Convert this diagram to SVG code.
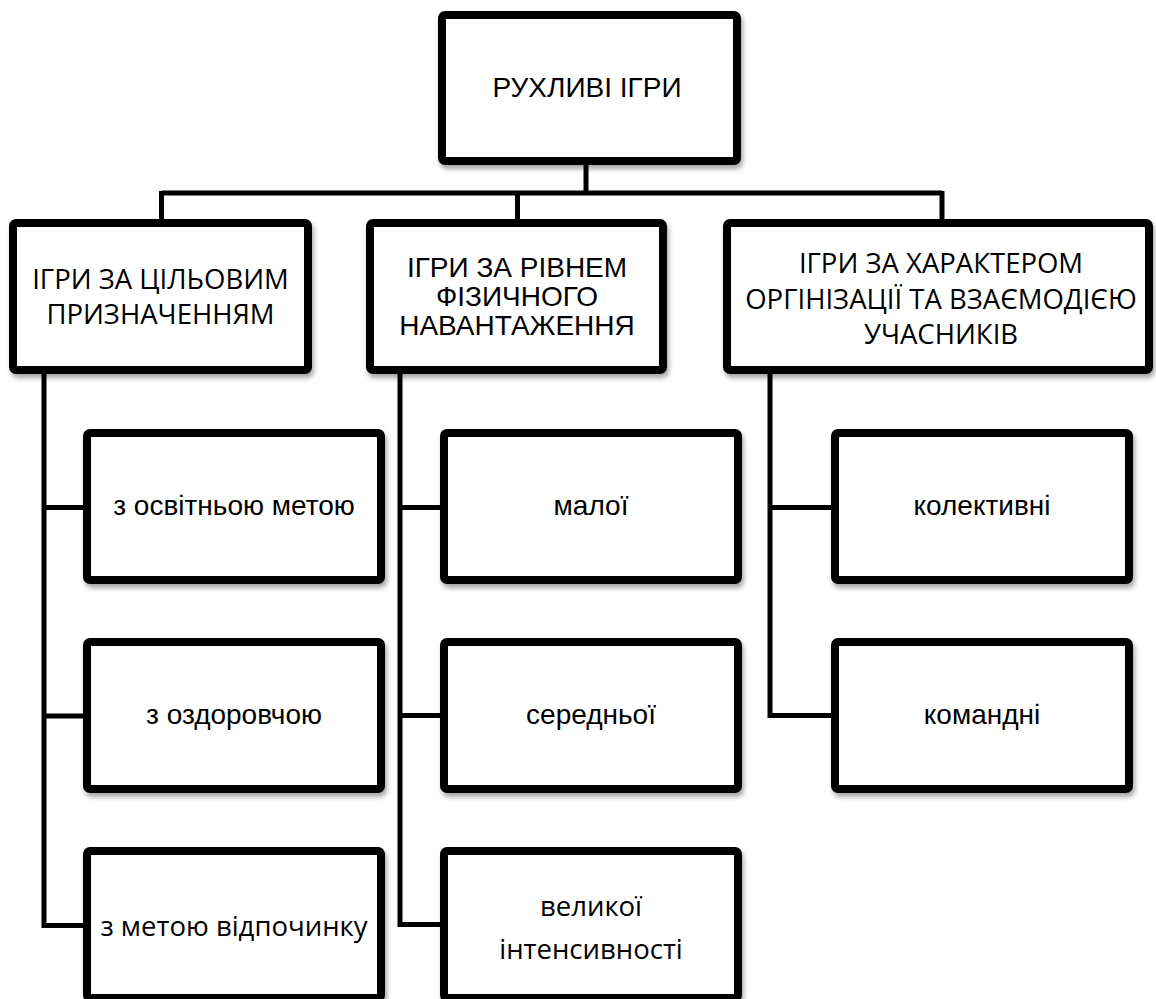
<svg xmlns="http://www.w3.org/2000/svg" width="1156" height="999" viewBox="0 0 1156 999">
<defs>
<filter id="sh" x="-10%" y="-10%" width="125%" height="130%">
<feDropShadow dx="2" dy="4" stdDeviation="2.5" flood-color="#000" flood-opacity="0.35"/>
</filter>
<style>
.box{fill:#fff;stroke:#000;stroke-width:8;filter:url(#sh)}
.conn{fill:none;stroke:#000;stroke-width:5;stroke-linejoin:miter}
.a{font-family:"Liberation Sans",Arial,sans-serif;font-size:28px;fill:#000;text-anchor:middle}
.c{font-family:"Open Sans","Noto Sans",sans-serif;font-size:27.5px;fill:#000;text-anchor:middle}
</style>
</defs>
<rect width="1156" height="999" fill="#fff"/>
<g id="connectors">
<path class="conn" d="M586 165 V193 M161.5 193 H942 M161.5 191 V220 M517.5 191 V220 M942 191 V220"/>
<path class="conn" d="M44 374 V925.5 H84 M44 507.5 H84 M44 716 H84"/>
<path class="conn" d="M400 374 V924.5 H441 M400 507.5 H441 M400 715.5 H441"/>
<path class="conn" d="M770 374 V715.5 H832 M770 507.5 H832"/>
</g>
<g id="root">
<rect class="box" x="442" y="15" width="295" height="146" rx="3"/>
<text class="a" x="587" y="97">РУХЛИВІ ІГРИ</text>
</g>
<g id="cat1">
<rect class="box" x="13" y="223" width="295" height="147" rx="3"/>
<text class="c" x="160.5" y="289">ІГРИ ЗА ЦІЛЬОВИМ</text>
<text class="c" x="160.5" y="324">ПРИЗНАЧЕННЯМ</text>
</g>
<g id="cat2">
<rect class="box" x="370" y="223" width="293" height="147" rx="3"/>
<text class="a" x="517" y="277">ІГРИ ЗА РІВНЕМ</text>
<text class="a" x="517" y="306">ФІЗИЧНОГО</text>
<text class="a" x="517" y="335">НАВАНТАЖЕННЯ</text>
</g>
<g id="cat3">
<rect class="box" x="727" y="223" width="422" height="147" rx="3"/>
<text class="c" x="941" y="273">ІГРИ ЗА ХАРАКТЕРОМ</text>
<text class="c" x="941" y="308.5">ОРГІНІЗАЦІЇ ТА ВЗАЄМОДІЄЮ</text>
<text class="c" x="941" y="344">УЧАСНИКІВ</text>
</g>
<g id="n11">
<rect class="box" x="87" y="433" width="294" height="147" rx="3"/>
<text class="a" x="234" y="515">з освітньою метою</text>
</g>
<g id="n12">
<rect class="box" x="87" y="642" width="294" height="147" rx="3"/>
<text class="a" x="234" y="724">з оздоровчою</text>
</g>
<g id="n13">
<rect class="box" x="87" y="851" width="294" height="147" rx="3"/>
<text class="c" x="234" y="936">з метою відпочинку</text>
</g>
<g id="n21">
<rect class="box" x="444" y="433" width="294" height="147" rx="3"/>
<text class="a" x="591" y="515">малої</text>
</g>
<g id="n22">
<rect class="box" x="444" y="642" width="294" height="147" rx="3"/>
<text class="a" x="591" y="724">середньої</text>
</g>
<g id="n23">
<rect class="box" x="444" y="851" width="294" height="147" rx="3"/>
<text class="c" x="591" y="916">великої</text>
<text class="c" x="591" y="959">інтенсивності</text>
</g>
<g id="n31">
<rect class="box" x="835" y="433" width="294" height="147" rx="3"/>
<text class="a" x="982" y="515">колективні</text>
</g>
<g id="n32">
<rect class="box" x="835" y="642" width="294" height="147" rx="3"/>
<text class="a" x="982" y="724">командні</text>
</g>
</svg>
